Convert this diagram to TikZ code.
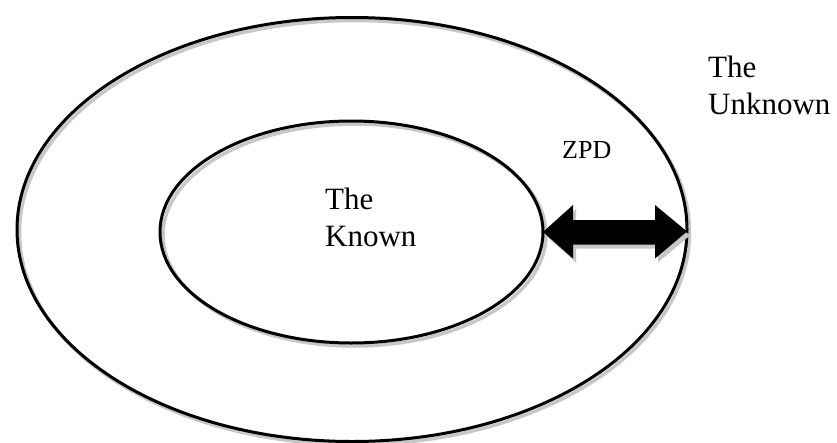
\documentclass[tikz,border=0pt]{standalone}
\usepackage{fontspec}
\setmainfont{Liberation Serif}
\usetikzlibrary{shapes.geometric,calc}
\tikzset{
  ring/.style={ellipse, draw=black, line width=3pt, inner sep=0pt, outer sep=0pt},
  ringshadow/.style={ellipse, draw=black!22, line width=3.5pt, inner sep=0pt, outer sep=0pt},
  bigtext/.style={font=\fontsize{31}{37}\selectfont, align=left, inner sep=0pt, anchor=north west},
  smalltext/.style={font=\fontsize{26}{30}\selectfont, inner sep=0pt, anchor=base west},
}
\begin{document}
\begin{tikzpicture}[x=1pt,y=-1pt]
\useasboundingbox (0,0) rectangle (837,442);
% shadows
\node[ringshadow, minimum width=670pt, minimum height=424pt] (outs) at (354.5,232.5) {};
\node[ringshadow, minimum width=383pt, minimum height=222pt] (ins) at (354.5,235) {};
% rings
\node[ring, minimum width=670pt, minimum height=424pt] (out) at (352,229.5) {};
\node[ring, minimum width=383pt, minimum height=222pt] (in) at (351.5,232) {};
% arrow shadow
\fill[black!22] ($(in.east)+(3,4)$) -- ++(30,-27) -- ++(0,15) -- ++(82,0) -- ++(0,-15)
  -- ($(out.east)+(3,6)$) -- ++(-32,27) -- ++(0,-14) -- ++(-82,0) -- ++(0,14) -- cycle;
% arrow
\fill[black] (in.east) -- ++(30,-27) -- ++(0,15) -- ++(82,0) -- ++(0,-15)
  -- ($(out.east)+(0,2)$) -- ++(-32,27) -- ++(0,-14) -- ++(-82,0) -- ++(0,14) -- cycle;
% texts
\node[bigtext] (known) at (325,187.5) {The\\Known};
\node[bigtext] (unknown) at (708,55.5) {The\\Unknown};
\node[smalltext] (zpd) at (562,158) {ZPD};
\end{tikzpicture}
\end{document}
